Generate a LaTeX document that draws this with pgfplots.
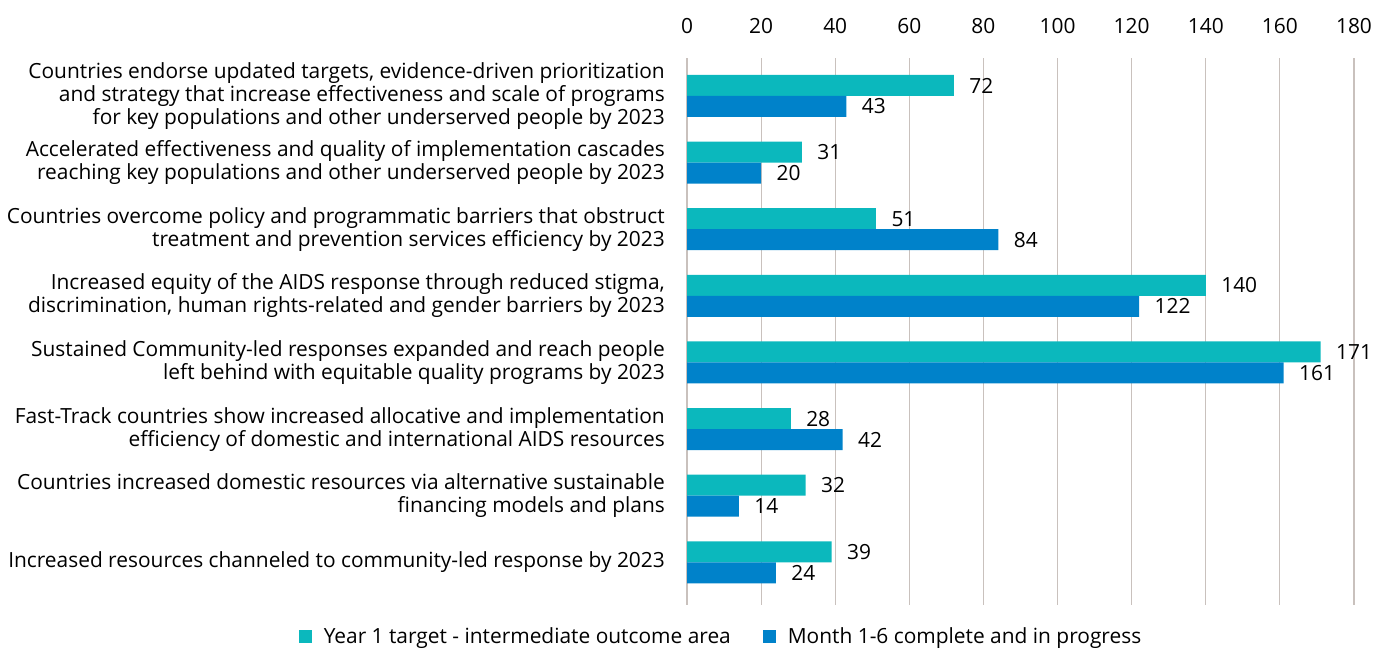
\documentclass[border=0pt]{standalone}
\usepackage{pgfplots}
\pgfplotsset{compat=1.18}
\usepackage{fontspec}
\setmainfont{Open Sans}
\definecolor{tealbar}{HTML}{0BB8BD}
\definecolor{bluebar}{HTML}{0082CA}
\definecolor{gridc}{HTML}{C9C1BD}
\newcommand{\lblfont}{\fontsize{20.9}{23}\selectfont}
\begin{document}
\begin{tikzpicture}
\begin{axis}[
  at={(687pt,-605pt)}, anchor=south west,
  scale only axis, width=667pt, height=547pt,
  xbar=0pt, bar width=21pt,
  xmin=0, xmax=180, xtick={0,20,...,180},
  ymin=-0.57, ymax=7.64, y dir=reverse,
  ytick={0,...,7},
  yticklabels={
    {Countries endorse updated targets, evidence-driven prioritization\\and strategy that increase effectiveness and scale of programs\\for key populations and other underserved people by 2023},
    {Accelerated effectiveness and quality of implementation cascades\\reaching key populations and other underserved people by 2023},
    {Countries overcome policy and programmatic barriers that obstruct\\treatment and prevention services efficiency by 2023},
    {Increased equity of the AIDS response through reduced stigma,\\discrimination, human rights-related and gender barriers by 2023},
    {Sustained Community-led responses expanded and reach people\\left behind with equitable quality programs by 2023},
    {Fast-Track countries show increased allocative and implementation\\efficiency of domestic and international AIDS resources},
    {Countries increased domestic resources via alternative sustainable\\financing models and plans},
    {Increased resources channeled to community-led response by 2023}},
  yticklabel style={align=right, inner sep=0pt, xshift=-22pt, font=\lblfont},
  xticklabel pos=top,
  xticklabel style={anchor=south, inner sep=0pt, yshift=24pt, font=\lblfont},
  /pgf/number format/assume math mode=true,
  major tick length=0pt,
  axis line style={draw=none},
  xmajorgrids, grid style={gridc, line width=1.2pt},
  ymajorgrids=false,
  nodes near coords,
  every node near coord/.append style={font=\lblfont, black, xshift=12pt},
  legend columns=2,
  legend style={draw=none, fill=none, at={(0.051,-0.058)}, anchor=center,
    font=\lblfont, inner sep=0pt,
    /tikz/every odd column/.append style={column sep=10pt},
    /tikz/every even column/.append style={column sep=30pt}},
  legend image code/.code={\fill[#1] (0pt,-6.5pt) rectangle (13pt,6.5pt);},
]
\addplot[fill=tealbar, draw=none, bar shift=10.5pt] coordinates {
  (72,0) (31,1) (51,2) (140,3) (171,4) (28,5) (32,6) (39,7)};
\addplot[fill=bluebar, draw=none, bar shift=-10.5pt] coordinates {
  (43,0) (20,1) (84,2) (122,3) (161,4) (42,5) (14,6) (24,7)};
\legend{Year 1 target - intermediate outcome area, Month 1-6 complete and in progress}
\end{axis}
\pgfresetboundingbox
\useasboundingbox (0,0) rectangle (1376pt,-648pt);
\end{tikzpicture}
\end{document}
